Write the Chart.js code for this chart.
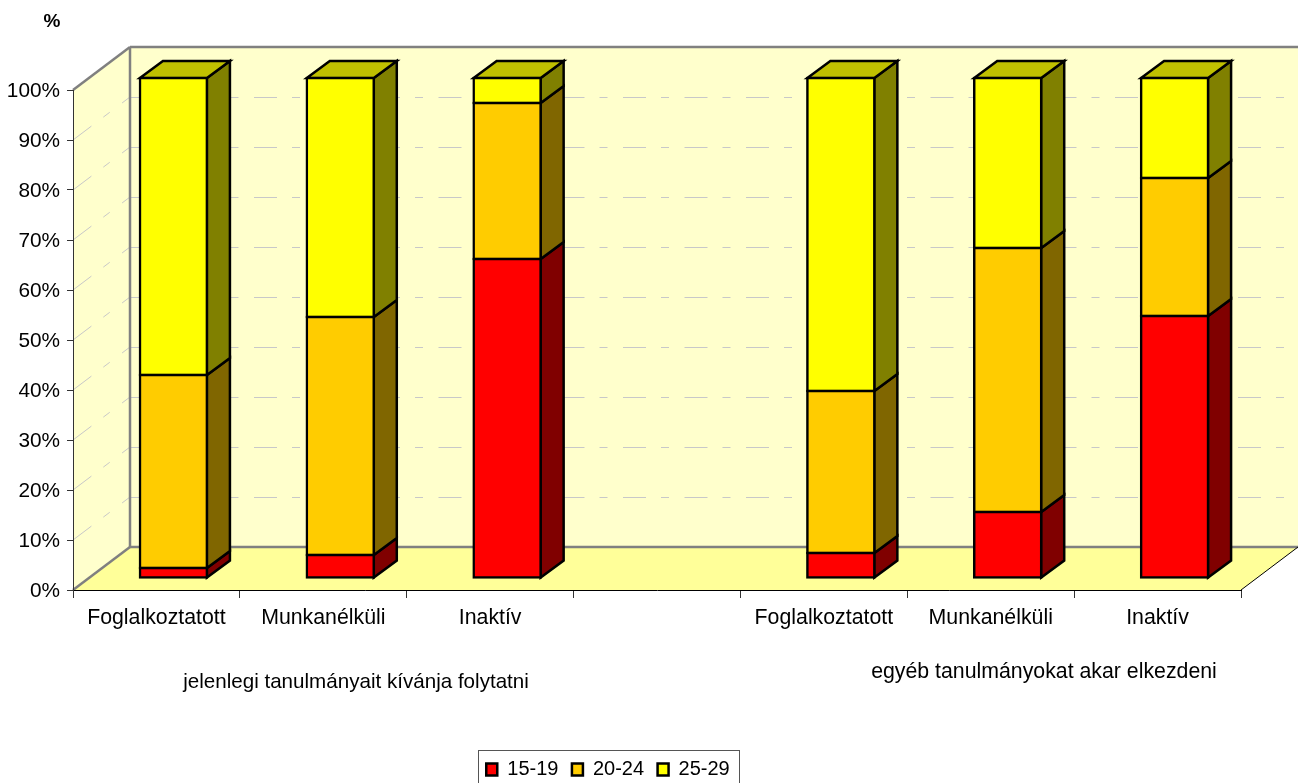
<!DOCTYPE html>
<html><head><meta charset="utf-8">
<style>html,body{margin:0;padding:0;background:#fff}canvas{display:block}</style>
<script src="https://cdn.jsdelivr.net/npm/chart.js@4"></script>
</head><body>
<canvas id="c" width="1298" height="783"></canvas>
<script>
const categories = ['Foglalkoztatott','Munkanélküli','Inaktív','','Foglalkoztatott','Munkanélküli','Inaktív'];
const seriesNames = ['15-19','20-24','25-29'];
const values1519 = [2, 4.6, 63.8, null, 5, 13.2, 52.4];
const values2024 = [38.6, 47.6, 31.2, null, 32.4, 52.8, 27.6];
const values2529 = [59.4, 47.8, 5, null, 62.6, 34, 20];
const yTicks = [0,10,20,30,40,50,60,70,80,90,100];
const unitLabel = '%';
const groupLabels = ['jelenlegi tanulmányait kívánja folytatni','egyéb tanulmányokat akar elkezdeni'];

const FONT = '"Liberation Sans", Arial, sans-serif';
const FS = 20;
const WALL = {dx:57, dy:-43};
const BAR_OFF = {dx:17, dy:-12};
const BAR_D = {dx:23, dy:-17};
const BAR_LW = 2.5;
const sideCol = ['#800000','#806600','#808000'];
const topCol = '#c0c000';

function poly(ctx, pts, fill, stroke, lw){
  ctx.beginPath();
  pts.forEach((p,i)=> i?ctx.lineTo(p[0],p[1]):ctx.moveTo(p[0],p[1]));
  ctx.closePath();
  if(fill){ctx.fillStyle=fill;ctx.fill();}
  if(stroke){ctx.strokeStyle=stroke;ctx.lineWidth=lw;ctx.lineJoin='miter';ctx.stroke();}
}
function line(ctx,x1,y1,x2,y2,c,w,dash,off){
  ctx.save();ctx.beginPath();ctx.moveTo(x1,y1);ctx.lineTo(x2,y2);
  ctx.strokeStyle=c;ctx.lineWidth=w;ctx.setLineDash(dash||[]);ctx.lineDashOffset=off||0;ctx.stroke();ctx.restore();
}
const threeD = {
  id:'threeD',
  beforeDraw(chart){
    const {ctx,chartArea:a,scales:{y}} = chart;
    const L=a.left,R=a.right,T=a.top,B=a.bottom,dx=WALL.dx,dy=WALL.dy;
    ctx.save();
    ctx.fillStyle='#fff';ctx.fillRect(0,0,chart.width,chart.height);
    poly(ctx,[[L+dx,T+dy],[R+dx,T+dy],[R+dx,B+dy],[L+dx,B+dy]],'#ffffcc');
    poly(ctx,[[L,T],[L+dx,T+dy],[L+dx,B+dy],[L,B]],'#ffffcc');
    poly(ctx,[[L,B],[R,B],[R+dx,B+dy],[L+dx,B+dy]],'#ffff99');
    const dash=[23,15,8,15.5];
    yTicks.slice(1,-1).forEach(v=>{
      const py=y.getPixelForValue(v);
      line(ctx,L,py,L+dx,py+dy,'#c8c8c8',1,dash);
      line(ctx,L+dx,Math.round(py+dy)+0.5,R+dx,Math.round(py+dy)+0.5,'#c8c8c8',1,dash,-1);
    });
    const g='#808080';
    line(ctx,L,T,L+dx,T+dy,g,2.5);
    line(ctx,L+dx,T+dy,R+dx,T+dy,g,2.5);
    line(ctx,L+dx,T+dy,L+dx,B+dy,g,2.5);
    line(ctx,L+dx,B+dy,R+dx,B+dy,g,2.5);
    line(ctx,L,B,L+dx,B+dy,g,2.5);
    line(ctx,R,B,R+dx,B+dy,'#000',1);
    ctx.restore();
  },
  beforeDatasetsDraw(chart){
    const ctx=chart.ctx;
    ctx.save();
    ctx.translate(BAR_OFF.dx,BAR_OFF.dy);
    const n=chart.data.datasets.length;
    const dx=BAR_D.dx,dy=BAR_D.dy;
    for(let d=0;d<n;d++){
      chart.getDatasetMeta(d).data.forEach((el,i)=>{
        if(chart.data.datasets[d].data[i]==null) return;
        const p=el.getProps(['x','y','base','width'],true);
        const xr=p.x+p.width/2, xl=p.x-p.width/2;
        const yt=p.y, yb=p.base;
        poly(ctx,[[xr,yt],[xr+dx,yt+dy],[xr+dx,yb+dy],[xr,yb]],sideCol[d],'#000',BAR_LW);
        if(d===n-1) poly(ctx,[[xl,yt],[xl+dx,yt+dy],[xr+dx,yt+dy],[xr,yt]],topCol,'#000',BAR_LW);
      });
    }
  },
  afterDatasetsDraw(chart){ chart.ctx.restore(); },
  afterLayout(chart){
    const lg=chart.legend;
    const h=lg.bottom-lg.top;
    lg.left-=12.5; lg.right-=12.5;
    lg.top=746; lg.bottom=746+h;
  },
  afterDraw(chart){
    const ctx=chart.ctx;
    ctx.save();
    ctx.strokeStyle='#555';ctx.lineWidth=1;
    ctx.strokeRect(478.5,750.5,261,40);
    ctx.fillStyle='#000';ctx.textAlign='center';ctx.textBaseline='middle';
    ctx.font='bold 19px '+FONT;
    ctx.fillText(unitLabel,52,22);
    ctx.font='20.6px '+FONT;
    ctx.fillText(groupLabels[0],356,682);
    ctx.font='21.3px '+FONT;
    ctx.fillText(groupLabels[1],1044,672);
    ctx.restore();
  }
};
const mk=(i,vals,c)=>({label:seriesNames[i],data:vals,backgroundColor:c,borderColor:'#000',borderWidth:BAR_LW,borderSkipped:false,inflateAmount:BAR_LW/2,barThickness:67,clip:false,stack:'s'});
new Chart(document.getElementById('c'),{
  type:'bar',
  data:{labels:categories,datasets:[mk(0,values1519,'#ff0000'),mk(1,values2024,'#ffcc00'),mk(2,values2529,'#ffff00')]},
  plugins:[threeD],
  options:{
    responsive:false,animation:false,
    font:{family:FONT,size:FS},
    layout:{padding:{left:0,right:57,top:90,bottom:1}},
    plugins:{
      tooltip:{enabled:false},
      legend:{display:true,position:'bottom',labels:{boxWidth:11,boxHeight:12,padding:13.5,color:'#000',font:{family:FONT,size:FS}}}
    },
    scales:{
      x:{stacked:true,
        grid:{offset:true,drawOnChartArea:false,drawTicks:true,tickLength:8,color:'#333'},
        border:{color:'#000',width:1},
        ticks:{color:'#000',font:{family:FONT,size:21.3},padding:7,maxRotation:0,autoSkip:false},
        afterFit(s){s.height=148.5;}
      },
      y:{stacked:true,min:0,max:100,
        afterBuildTicks(s){s.ticks=yTicks.map(v=>({value:v}));},
        grid:{drawOnChartArea:false,drawTicks:true,tickLength:6,color:'#333'},
        border:{color:'#333',width:1},
        ticks:{color:'#000',font:{family:FONT,size:20.8},padding:7,labelOffset:1,callback:v=>v+'%'},
        afterFit(s){s.width=73;}
      }
    }
  }
});
</script>
</body></html>
